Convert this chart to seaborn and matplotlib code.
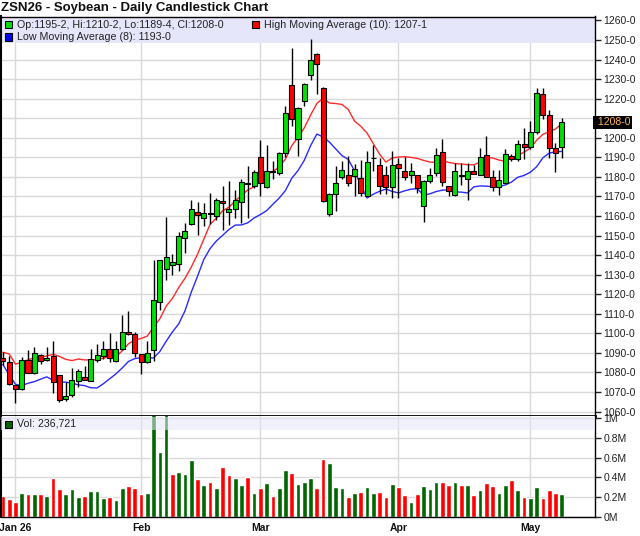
import numpy as np
import pandas as pd
import matplotlib
matplotlib.use('Agg')
import matplotlib.pyplot as plt
import matplotlib.transforms as mtransforms
from matplotlib.patches import Rectangle
import seaborn as sns


# --------------------- data (ZSN26 daily) --------------------------------------------- #
opens = [1087.4, 1085.3, 1073.5, 1071.5, 1086.4, 1079.7, 1088.9, 1086.4, 1088.2, 1078.6,
         1066.3, 1068.4, 1075.7, 1077.4, 1075.7, 1086.4, 1088.2, 1092.0, 1085.8, 1092.0,
         1100.7, 1099.7, 1089.4, 1085.2, 1091.7, 1115.8, 1133.1, 1134.8, 1135.2, 1148.5,
         1156.1, 1161.9, 1159.0, 1161.0, 1160.2, 1167.7, 1162.2, 1163.6, 1167.0, 1176.5,
         1175.3, 1190.3, 1174.9, 1182.5, 1182.1, 1192.1, 1227.0, 1199.2, 1218.6, 1232.1,
         1242.9, 1225.3, 1161.2, 1171.3, 1180.1, 1181.1, 1180.4, 1179.5, 1170.1, 1189.6,
         1186.1, 1181.0, 1174.8, 1186.8, 1183.2, 1181.0, 1181.0, 1165.1, 1178.1, 1182.0,
         1192.8, 1175.3, 1170.7, 1180.5, 1178.9, 1183.2, 1181.0, 1191.3, 1180.0, 1174.8,
         1176.9, 1190.7, 1189.2, 1196.9, 1195.4, 1203.1, 1222.3, 1211.5, 1194.9, 1195.25]
highs = [1090.3, 1088.6, 1073.8, 1087.7, 1091.5, 1092.9, 1089.4, 1093.2, 1095.8, 1078.8,
         1075.2, 1082.1, 1081.7, 1083.1, 1091.8, 1094.6, 1096.3, 1100.2, 1096.3, 1109.1,
         1111.2, 1100.9, 1089.6, 1095.8, 1137.4, 1137.7, 1159.6, 1140.8, 1151.9, 1156.2,
         1168.4, 1167.2, 1166.4, 1171.5, 1169.3, 1175.3, 1177.8, 1173.5, 1178.7, 1185.5,
         1183.5, 1198.9, 1196.1, 1188.1, 1192.7, 1216.4, 1245.8, 1215.5, 1228.0, 1250.5,
         1243.2, 1225.8, 1171.5, 1185.5, 1188.1, 1190.7, 1186.4, 1188.6, 1193.2, 1196.1,
         1189.7, 1185.4, 1193.1, 1189.7, 1190.2, 1187.2, 1181.2, 1178.2, 1184.6, 1194.9,
         1199.1, 1175.5, 1187.2, 1187.2, 1187.2, 1186.3, 1194.9, 1200.9, 1183.7, 1183.7,
         1194.0, 1191.8, 1198.8, 1205.0, 1208.5, 1225.5, 1225.5, 1214.4, 1197.4, 1210.25]
lows = [1084.0, 1073.5, 1064.3, 1071.0, 1079.5, 1079.2, 1084.3, 1086.0, 1069.7, 1064.9,
        1065.5, 1067.2, 1072.3, 1076.0, 1075.5, 1085.2, 1086.9, 1085.2, 1085.5, 1091.5,
        1098.9, 1087.7, 1079.2, 1085.0, 1086.0, 1111.7, 1127.1, 1129.7, 1131.9, 1141.1,
        1155.6, 1150.4, 1154.7, 1156.1, 1158.1, 1153.0, 1155.6, 1159.0, 1156.4, 1159.0,
        1174.4, 1170.1, 1174.4, 1179.0, 1180.7, 1190.2, 1206.1, 1190.7, 1216.4, 1229.7,
        1222.3, 1167.0, 1159.8, 1162.4, 1178.7, 1175.3, 1170.1, 1170.1, 1170.0, 1183.0,
        1171.4, 1171.4, 1169.2, 1169.2, 1178.6, 1176.9, 1171.7, 1156.7, 1176.9, 1180.6,
        1175.2, 1170.0, 1170.4, 1176.0, 1168.3, 1181.5, 1180.8, 1179.8, 1172.6, 1170.9,
        1176.7, 1188.0, 1188.0, 1188.9, 1194.0, 1202.1, 1209.4, 1189.7, 1182.4, 1189.5]
closes = [1086.0, 1074.0, 1071.5, 1086.4, 1079.7, 1089.8, 1085.8, 1087.4, 1074.9, 1066.0,
          1067.9, 1076.1, 1080.7, 1076.1, 1086.7, 1088.9, 1092.0, 1087.4, 1092.0, 1100.7,
          1099.7, 1090.0, 1085.2, 1090.0, 1116.8, 1137.4, 1139.1, 1136.5, 1149.7, 1152.3,
          1163.6, 1160.5, 1161.6, 1161.3, 1168.1, 1166.4, 1163.6, 1168.1, 1177.3, 1176.6,
          1182.5, 1177.0, 1183.0, 1182.8, 1192.4, 1212.9, 1209.5, 1215.0, 1227.5, 1240.0,
          1237.8, 1167.6, 1171.3, 1176.6, 1183.3, 1176.6, 1183.8, 1171.5, 1187.6, 1189.8,
          1175.2, 1174.8, 1186.1, 1184.6, 1180.0, 1183.2, 1174.3, 1178.1, 1181.0, 1191.3,
          1177.4, 1172.8, 1183.2, 1180.7, 1183.2, 1181.7, 1190.2, 1180.0, 1174.8, 1178.6,
          1191.8, 1189.2, 1196.9, 1195.4, 1203.1, 1222.8, 1211.5, 1194.9, 1192.3, 1208.0]
volumes = [212000, 182000, 155000, 246000, 232000, 232000, 232000, 212000, 394000, 283000,
           232000, 283000, 202000, 212000, 263000, 263000, 192000, 202000, 172000, 293000,
           313000, 293000, 232000, 246000, 1050000, 657000, 1050000, 434000, 455000, 434000,
           576000, 384000, 323000, 354000, 293000, 505000, 428000, 394000, 323000, 404000,
           246000, 293000, 343000, 212000, 293000, 475000, 444000, 333000, 354000, 394000,
           293000, 586000, 545000, 303000, 293000, 202000, 242000, 253000, 303000, 242000,
           253000, 202000, 333000, 303000, 222000, 152000, 232000, 313000, 283000, 354000,
           354000, 323000, 354000, 323000, 323000, 222000, 273000, 343000, 313000, 242000,
           323000, 374000, 273000, 202000, 192000, 303000, 192000, 273000, 242000, 236721]

holidays = ['2026-01-01', '2026-01-19', '2026-02-16', '2026-04-03']
dates = pd.bdate_range('2025-12-30', '2026-05-08')
dates = dates[~dates.isin(pd.to_datetime(holidays))]

df = pd.DataFrame({'date': dates, 'open': opens, 'high': highs, 'low': lows,
                   'close': closes, 'volume': volumes})
df['idx'] = np.arange(len(df))
df['ma_high'] = df['high'].rolling(10, min_periods=1).mean()
df['ma_low'] = df['low'].rolling(8, min_periods=1).mean()
prev_close = df['close'].shift(1).fillna(df['open'])
df['dir'] = np.where(df['close'] >= prev_close, 'up', 'down')

# first trading day of each month -> x ticks
month_start = df.groupby(df['date'].dt.to_period('M'))['idx'].min()
month_start = month_start[month_start.index >= pd.Period('2026-01', 'M')]
month_labels = [p.strftime('%b %y') if p.month == 1 else p.strftime('%b') for p in month_start.index]


def fmt_price(p):
    e = int(round(p * 8))
    return f"{e // 8}-{e % 8}"


GREEN, RED, BLUE, VGREEN = '#00e000', '#ff0000', '#2a2aff', '#006600'
GRID = '#d9d9d9'
W, H = 640, 536

sns.set_style('white')
plt.rcParams['font.family'] = ['Liberation Sans', 'DejaVu Sans']

fig = plt.figure(figsize=(6.4, 5.36), dpi=100)
ax = fig.add_axes([1 / W, 120 / H, 594 / W, 399.5 / H])
axv = fig.add_axes([1 / W, 19 / H, 594 / W, 101 / H])

# ------------------------------ price panel ---------------------------------- #
ax.add_patch(Rectangle((0, 0.934), 1, 0.066, transform=ax.transAxes,
                       facecolor='#e6e6fa', edgecolor='none', zorder=1))

ax.vlines(df['idx'], df['low'], df['high'], color='black', linewidth=1, zorder=3)
body_lo = np.minimum(df['open'], df['close'])
body_h = np.maximum(np.abs(df['close'] - df['open']), 0.2)
ax.bar(df['idx'], body_h, bottom=body_lo, width=0.8,
       color=np.where(df['close'] >= df['open'], GREEN, RED),
       edgecolor='black', linewidth=0.8, zorder=4)

sns.lineplot(data=df, x='idx', y='ma_high', color='#ff2a2a', linewidth=1, ax=ax, zorder=2.5)
sns.lineplot(data=df, x='idx', y='ma_low', color=BLUE, linewidth=1, ax=ax, zorder=2.5)

last = df.iloc[-1]
price_ticks = list(range(1060, 1261, 10))
ax.set(xlim=(-0.3, 94.3), ylim=(1057.7, 1262.0), xlabel='', ylabel='')
ax.set_yticks(price_ticks)
ax.set_yticklabels(['' if abs(t - last['close']) < 4 else fmt_price(t) for t in price_ticks])
ax.set_xticks(month_start.values)
ax.yaxis.tick_right()
ax.tick_params(axis='y', length=4, width=1, pad=2, labelsize=7.5, labelcolor='#222222')
ax.tick_params(axis='x', length=0, labelbottom=False)
ax.grid(True, color=GRID, linewidth=1)
ax.set_axisbelow(True)
for side, lw in [('left', 1.5), ('top', 1), ('right', 1), ('bottom', 2)]:
    ax.spines[side].set_visible(True)
    ax.spines[side].set_color('black')
    ax.spines[side].set_linewidth(lw)

# last price marker on the axis
trans = mtransforms.blended_transform_factory(ax.transAxes, ax.transData)
ax.text(1.0, last['close'], ' ' + fmt_price(last['close']), transform=trans,
        ha='left', va='center', fontsize=7.5, color='#ffb35c', zorder=10, clip_on=False,
        bbox=dict(boxstyle='square,pad=0.15', facecolor='black', edgecolor='none'))

# ------------------------------ volume panel ---------------------------------- #
sns.barplot(data=df, x='idx', y='volume', hue='dir', palette={'up': VGREEN, 'down': RED},
            native_scale=True, width=0.75, dodge=False, saturation=1, legend=False,
            errorbar=None, ax=axv, zorder=2)
axv.add_patch(Rectangle((0, 0.861), 1, 0.125, transform=axv.transAxes,
                        facecolor='#e6e6fa', edgecolor='none', alpha=0.55, zorder=3))

vol_ticks = [0, 200000, 400000, 600000, 800000, 1000000]
axv.set(xlim=(-0.3, 94.3), ylim=(0, 1020200), xlabel='', ylabel='')
axv.set_yticks(vol_ticks)
axv.set_yticklabels([f"{v / 1e6:g}M" for v in vol_ticks])
axv.set_xticks(month_start.values)
axv.set_xticklabels(month_labels, fontweight='bold', fontsize=7.5)
axv.yaxis.tick_right()
axv.tick_params(axis='y', length=4, width=1, pad=2, labelsize=7.5, labelcolor='#222222')
axv.tick_params(axis='x', length=0, pad=4, labelcolor='#111111')
axv.grid(True, color=GRID, linewidth=1)
axv.set_axisbelow(True)
axv.spines['top'].set_visible(False)
for side in ['left', 'right', 'bottom']:
    axv.spines[side].set_visible(True)
    axv.spines[side].set_color('black')
    axv.spines[side].set_linewidth(1.5 if side == 'left' else 1)

# ------------------------------ title & legends ---------------------------------- #
fig.text(1 / W, 1 - 8 / H, 'ZSN26 - Soybean - Daily Candlestick Chart',
         ha='left', va='center', fontsize=9.5, fontweight='bold', color='#111111')


def legend_item(x_px, y_px, color, label):
    fig.add_artist(Rectangle(((x_px) / W, 1 - (y_px + 3.5) / H), 7 / W, 7 / H,
                             transform=fig.transFigure, facecolor=color,
                             edgecolor='black', linewidth=0.8, zorder=20))
    fig.text((x_px + 12) / W, 1 - y_px / H, label, ha='left', va='center',
             fontsize=7.7, color='#222222', zorder=20)


legend_item(5, 24.5, GREEN, f"Op:{fmt_price(last['open'])}, Hi:{fmt_price(last['high'])}, "
                            f"Lo:{fmt_price(last['low'])}, Cl:{fmt_price(last['close'])}")
legend_item(252, 24.5, RED, f"High Moving Average (10): {fmt_price(last['ma_high'])}")
legend_item(5, 37, '#0000ee', f"Low Moving Average (8): {fmt_price(last['ma_low'])}")
legend_item(5, 424, VGREEN, f"Vol: {int(last['volume']):,}")

fig.savefig('out.png', dpi=100)
